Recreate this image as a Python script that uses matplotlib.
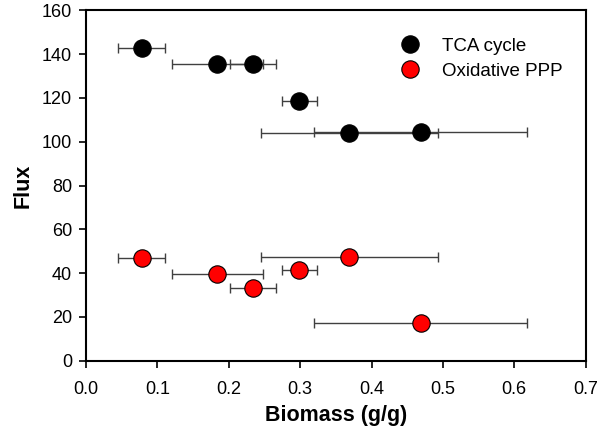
import matplotlib
matplotlib.use('Agg')
import matplotlib.pyplot as plt
import numpy as np

plt.rcParams['font.family'] = ['Liberation Sans', 'DejaVu Sans']

# biomass (x) with horizontal error, shared by both series
biomass = [0.078, 0.184, 0.234, 0.299, 0.369, 0.469]
biomass_err = [0.033, 0.064, 0.032, 0.024, 0.124, 0.149]

tca_flux = [143.0, 135.5, 135.5, 118.7, 103.8, 104.3]
ppp_flux = [47.0, 39.7, 33.3, 41.2, 47.3, 17.1]

series = [('TCA cycle', tca_flux, 'black'), ('Oxidative PPP', ppp_flux, 'red')]

fig = plt.figure(figsize=(6.0, 4.37), dpi=100)
ax = fig.add_axes([0.1433, 0.175, 0.8328, 0.801])

for name, flux, color in series:
    ax.errorbar(biomass, flux, xerr=biomass_err, fmt='none', ecolor='#404040',
                elinewidth=1.0, capsize=3.5, capthick=1.0, zorder=2)
    ax.plot(biomass, flux, 'o', color=color, markeredgecolor='black',
            markeredgewidth=0.8, markersize=12.5, label=name, zorder=3, linestyle='none')

ax.set_xlim(0, 0.7)
ax.set_ylim(0, 160)
ax.set_xticks(np.arange(0, 0.71, 0.1))
ax.set_yticks(np.arange(0, 161, 20))
ax.set_xticklabels([f'{v:.1f}' for v in np.arange(0, 0.71, 0.1)])
ax.tick_params(direction='out', length=5, width=1.2, labelsize=13, top=False, right=False)
ax.tick_params(axis='x', pad=10)
ax.tick_params(axis='y', pad=5)
for s in ax.spines.values():
    s.set_linewidth(1.5)

ax.set_xlabel('Biomass (g/g)', fontsize=15.5, fontweight='bold', labelpad=5)
ax.set_ylabel('Flux', fontsize=15.5, fontweight='bold', labelpad=6)

ax.legend(loc='upper left', bbox_to_anchor=(0.577, 0.97), frameon=False, fontsize=13.5,
          handletextpad=0.7, labelspacing=0.42, markerscale=1.0, numpoints=1)

fig.savefig('out.png', dpi=100)
